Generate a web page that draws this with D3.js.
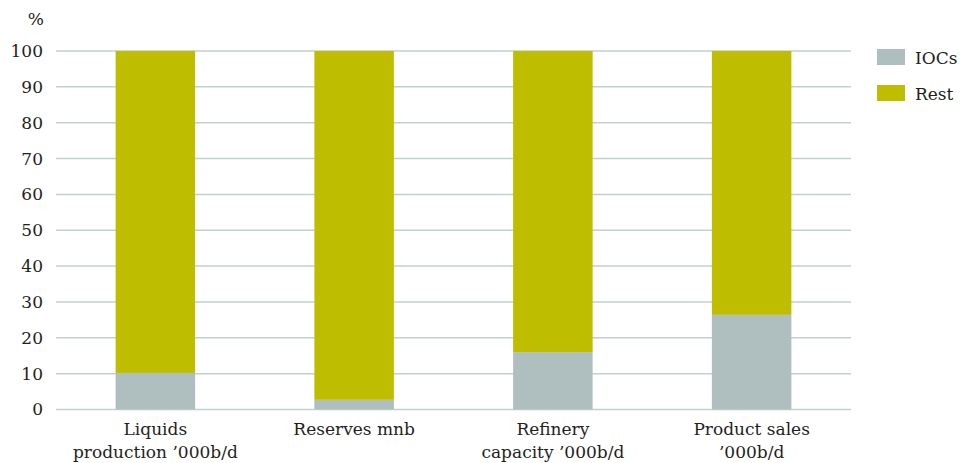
<!DOCTYPE html>
<html>
<head>
<meta charset="utf-8">
<script src="https://cdn.jsdelivr.net/npm/d3@7"></script>
<style>
  html, body { margin: 0; padding: 0; background: #fff; }
  svg text { font-family: "DejaVu Serif", serif; fill: #231f20; }
</style>
</head>
<body>
<svg id="chart" width="960" height="463"></svg>
<script>
// Share of IOCs vs the rest across four industry measures (percent)
const categories = [
  ["Liquids", "production \u2019000b/d"],
  ["Reserves mnb"],
  ["Refinery", "capacity \u2019000b/d"],
  ["Product sales", "\u2019000b/d"]
];
const iocs = [10.2, 2.7, 16.0, 26.4];
const rest = iocs.map(v => 100 - v);
const seriesNames = ["IOCs", "Rest"];
const seriesColors = ["#afbebe", "#bfbd00"];
const yTicks = [0, 10, 20, 30, 40, 50, 60, 70, 80, 90, 100];

const svg = d3.select("#chart");
const plot = { left: 56, right: 851, top: 51, bottom: 409.5 };
const fontSize = 17;

const x = d3.scaleBand()
  .domain(d3.range(categories.length))
  .range([plot.left, plot.right])
  .paddingInner(0.6)
  .paddingOuter(0.3);
const y = d3.scaleLinear().domain([0, 100]).range([plot.bottom, plot.top]);

// horizontal grid
svg.append("g")
  .selectAll("line")
  .data(yTicks)
  .join("line")
  .attr("x1", plot.left).attr("x2", plot.right)
  .attr("y1", d => y(d)).attr("y2", d => y(d))
  .attr("stroke", "#c3d0d0")
  .attr("stroke-width", 1.5);

// y axis labels
const yAxis = d3.axisLeft(y).tickValues(yTicks).tickSize(0).tickPadding(13);
const yg = svg.append("g").attr("transform", `translate(${plot.left},0)`).call(yAxis);
yg.select(".domain").remove();
yg.attr("font-family", null).attr("font-size", null);
yg.selectAll("text").attr("font-size", fontSize).style("fill", "#231f20");

svg.append("text")
  .attr("x", 44).attr("y", 25)
  .attr("text-anchor", "end")
  .attr("font-size", fontSize)
  .text("%");

// stacked bars
const stackData = categories.map((c, i) => ({ IOCs: iocs[i], Rest: rest[i] }));
const stacked = d3.stack().keys(seriesNames)(stackData);
svg.append("g")
  .selectAll("g")
  .data(stacked)
  .join("g")
  .attr("fill", (d, i) => seriesColors[i])
  .selectAll("rect")
  .data(d => d)
  .join("rect")
  .attr("x", (d, i) => x(i))
  .attr("width", x.bandwidth())
  .attr("y", d => y(d[1]))
  .attr("height", d => y(d[0]) - y(d[1]));

// category labels
const cl = svg.append("g")
  .selectAll("text")
  .data(categories)
  .join("text")
  .attr("text-anchor", "middle")
  .attr("font-size", fontSize)
  .attr("x", (d, i) => x(i) + x.bandwidth() / 2)
  .attr("y", 435);
cl.selectAll("tspan")
  .data(d => d)
  .join("tspan")
  .attr("x", function () { return d3.select(this.parentNode).attr("x"); })
  .attr("dy", (d, i) => i === 0 ? 0 : 23)
  .text(d => d);

// legend
const lg = svg.append("g")
  .selectAll("g")
  .data(seriesNames)
  .join("g")
  .attr("transform", (d, i) => `translate(877,${49 + i * 36})`);
lg.append("rect")
  .attr("width", 28).attr("height", 16)
  .attr("fill", (d, i) => seriesColors[i]);
lg.append("text")
  .attr("x", 38).attr("y", 15)
  .attr("font-size", fontSize)
  .text(d => d);
</script>
</body>
</html>
